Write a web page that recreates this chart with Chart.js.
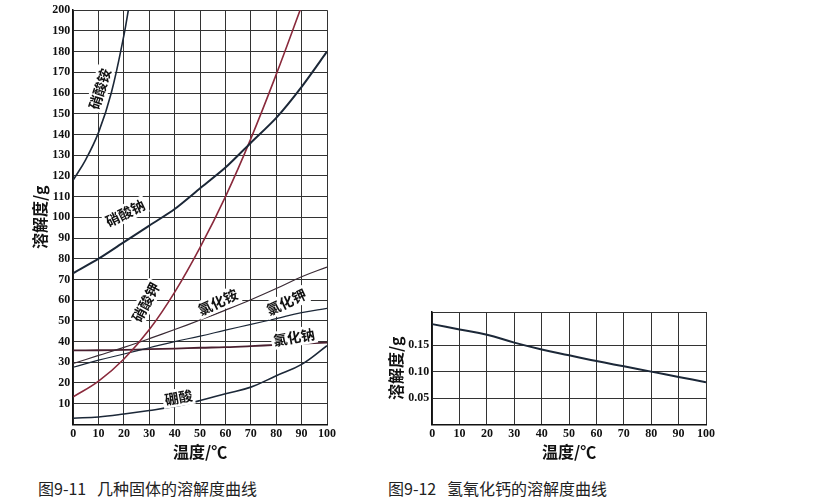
<!DOCTYPE html>
<html>
<head>
<script src="https://cdn.jsdelivr.net/npm/chart.js@4.4.0/dist/chart.umd.min.js"></script>
<style>
body { margin:0; background:#fff; width:832px; height:504px; position:relative; overflow:hidden; }
.box { position:absolute; }
.cap { position:absolute; font-family:"Noto Sans CJK SC"; font-size:16px; color:#222; top:476px; }
</style>
</head>
<body>
<div class="box" style="left:0;top:0;width:345px;height:462px"><canvas id="c1"></canvas></div>
<div class="box" style="left:382px;top:300px;width:338px;height:162px"><canvas id="c2"></canvas></div>
<div class="cap" style="left:38px">图9-11&nbsp;&nbsp;&nbsp;几种固体的溶解度曲线</div>
<div class="cap" style="left:388px">图9-12&nbsp;&nbsp;&nbsp;氢氧化钙的溶解度曲线</div>
<script>
var temps = [0, 10, 20, 30, 40, 50, 60, 70, 80, 90, 100];
var nh4no3T = [0, 5, 10, 15, 20, 22];
var nh4no3 = [118, 128, 141, 160, 188, 202];
var nano3 = [73, 80, 88, 96, 104, 114, 124, 136, 148, 163, 180];
var kno3 = [13.3, 20.9, 31.6, 45.8, 63.9, 85.5, 110, 138, 169, 202, null];
var nh4cl = [29.4, 33.3, 37.2, 41.4, 45.8, 50.4, 55.2, 60.2, 65.6, 71.3, 76];
var kcl = [27.6, 31.0, 34.0, 37.0, 40.0, 42.6, 45.5, 48.3, 51.1, 54.0, 56.0];
var nacl = [35.7, 35.8, 36.0, 36.3, 36.6, 37.0, 37.3, 37.8, 38.4, 39.0, 39.5];
var h3bo3 = [3, 3.6, 5, 6.7, 8.7, 11.5, 14.8, 18, 23.5, 29, 38];
var caoh2 = [0.19, 0.18, 0.17, 0.155, 0.142, 0.131, 0.12, 0.11, 0.10, 0.09, 0.08];
var labels1 = [
  ["硝酸铵", 10.5, 162, -72], ["硝酸钠", 20.5, 102, -26], ["硝酸钾", 28.6, 59, -62],
  ["氯化铵", 57, 59, -25], ["氯化钾", 84, 59, -25], ["氯化钠", 87, 42, -10], ["硼酸", 41.5, 13, -10]
];

var dark = "#1c2838", red = "#8a2a3c", grid = "#333";
function pts(xs, ys) { return xs.map(function(x, i) { return {x: x, y: ys[i]}; }); }
function ds(data, color, w, t) {
  return { data: data, borderColor: color, borderWidth: w || 1.6, pointRadius: 0, tension: t === undefined ? 0.4 : t, fill: false };
}
var tickFont = { family: "Liberation Serif", size: 12, weight: "bold" };
var titleFont = { family: "Noto Sans CJK SC", size: 16, weight: "bold" };

var labelPlugin = {
  id: "curveLabels",
  afterDatasetsDraw: function(chart) {
    var ctx = chart.ctx, xs = chart.scales.x, ys = chart.scales.y;
    ctx.save();
    ctx.font = "bold 14px 'Noto Sans CJK SC'";
    ctx.textAlign = "center"; ctx.textBaseline = "middle";
    labels1.forEach(function(l) {
      ctx.save();
      ctx.translate(xs.getPixelForValue(l[1]), ys.getPixelForValue(l[2]));
      ctx.rotate(l[3] * Math.PI / 180);
      ctx.fillStyle = "#fff";
      var w = ctx.measureText(l[0]).width;
      ctx.fillRect(-w / 2 - 2, -9, w + 4, 18);
      ctx.fillStyle = "#111";
      ctx.fillText(l[0], 0, 0);
      ctx.restore();
    });
    ctx.restore();
  }
};

function axes(ymax, ystep, yfmt) {
  return {
    x: { type: "linear", min: 0, max: 100,
      ticks: { stepSize: 10, color: "#111", font: tickFont, padding: 2 },
      grid: { color: grid, lineWidth: 1, drawTicks: false },
      border: { color: "#111", width: 1.5 },
      title: { display: true, text: "温度/℃", color: "#111", font: titleFont, padding: 0 } },
    y: { type: "linear", min: 0, max: ymax,
      ticks: { stepSize: ystep, color: "#111", font: tickFont, padding: 3, callback: yfmt },
      grid: { color: grid, lineWidth: 1, drawTicks: false },
      border: { color: "#111", width: 1.5 },
      title: { display: true, text: "溶解度/g", color: "#111", font: titleFont, padding: 0 } }
  };
}

new Chart(document.getElementById("c1"), {
  type: "line",
  data: { datasets: [
    ds(pts(nh4no3T, nh4no3), dark), ds(pts(temps, nano3), dark, 2, 0.25), ds(pts(temps, kno3), red),
    ds(pts(temps, nh4cl), "#3a2a34", 1.2), ds(pts(temps, kcl), dark, 1.2), ds(pts(temps, nacl), "#4a2030", 1.8),
    ds(pts(temps, h3bo3), dark)
  ] },
  options: {
    responsive: true, maintainAspectRatio: false, animation: false,
    layout: { padding: { top: 8, right: 18, left: 30, bottom: 0 } },
    plugins: { legend: { display: false }, tooltip: { enabled: false } },
    scales: axes(200, 10, function(v) { return v === 0 ? "" : v; })
  },
  plugins: [labelPlugin]
});

new Chart(document.getElementById("c2"), {
  type: "line",
  data: { datasets: [ ds(pts(temps, caoh2), dark, 2) ] },
  options: {
    responsive: true, maintainAspectRatio: false, animation: false,
    layout: { padding: { top: 12, right: 14, left: 4, bottom: 0 } },
    plugins: { legend: { display: false }, tooltip: { enabled: false } },
    scales: axes(0.213, 0.05, function(v) { return (v === 0 || v > 0.2) ? "" : v.toFixed(2); })
  }
});
</script>
</body>
</html>
